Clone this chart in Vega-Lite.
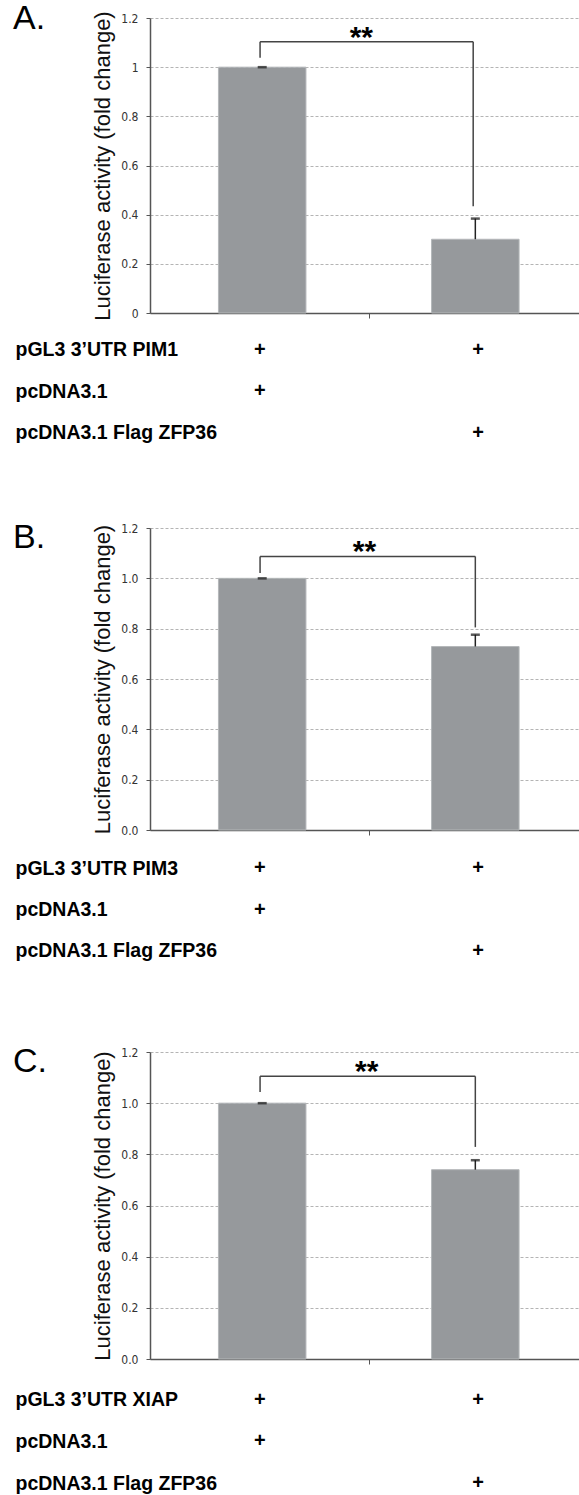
{
  "$schema": "https://vega.github.io/schema/vega-lite/v6.json",
  "autosize": {"type": "pad"},
  "padding": {"left": 13, "top": 2, "right": 0, "bottom": 0},
  "background": "white",
  "config": {"view": {"stroke": null}, "font": "Liberation Sans"},
  "datasets": {
    "bars": [
      {"panel": "A", "cond": 1, "value": 1.0, "upper": 1.0},
      {"panel": "A", "cond": 2, "value": 0.30, "upper": 0.384},
      {"panel": "B", "cond": 1, "value": 1.0, "upper": 1.0},
      {"panel": "B", "cond": 2, "value": 0.729, "upper": 0.776},
      {"panel": "C", "cond": 1, "value": 1.0, "upper": 1.0},
      {"panel": "C", "cond": 2, "value": 0.740, "upper": 0.777}
    ],
    "brackets": [
      {"panel": "A", "left": 0.99, "right": 1.99, "top": 1.103, "leftEnd": 1.038, "rightEnd": 0.434, "labelX": 1.465, "label": "**"},
      {"panel": "B", "left": 0.99, "right": 2.0, "top": 1.087, "leftEnd": 1.021, "rightEnd": 0.805, "labelX": 1.48, "label": "**"},
      {"panel": "C", "left": 0.99, "right": 2.0, "top": 1.105, "leftEnd": 1.044, "rightEnd": 0.829, "labelX": 1.49, "label": "**"}
    ],
    "table": [
      {"panel": "A", "row": "pGL3 3’UTR PIM1", "cond": 1, "sign": "+"},
      {"panel": "A", "row": "pGL3 3’UTR PIM1", "cond": 2, "sign": "+"},
      {"panel": "A", "row": "pcDNA3.1", "cond": 1, "sign": "+"},
      {"panel": "A", "row": "pcDNA3.1 Flag ZFP36", "cond": 2, "sign": "+"},
      {"panel": "B", "row": "pGL3 3’UTR PIM3", "cond": 1, "sign": "+"},
      {"panel": "B", "row": "pGL3 3’UTR PIM3", "cond": 2, "sign": "+"},
      {"panel": "B", "row": "pcDNA3.1", "cond": 1, "sign": "+"},
      {"panel": "B", "row": "pcDNA3.1 Flag ZFP36", "cond": 2, "sign": "+"},
      {"panel": "C", "row": "pGL3 3’UTR XIAP", "cond": 1, "sign": "+"},
      {"panel": "C", "row": "pGL3 3’UTR XIAP", "cond": 2, "sign": "+"},
      {"panel": "C", "row": "pcDNA3.1", "cond": 1, "sign": "+"},
      {"panel": "C", "row": "pcDNA3.1 Flag ZFP36", "cond": 2, "sign": "+"}
    ]
  },
  "bounds": "flush",
  "spacing": 30,
  "resolve": {"scale": {"x": "independent", "y": "independent"}},
  "vconcat": [
    {
      "width": 429, "height": 295,
      "title": {"text": "A.", "anchor": "start", "frame": "group", "dx": -137, "offset": -25.5, "fontSize": 34, "fontWeight": "normal", "font": "Liberation Sans", "color": "#000", "baseline": "top"},
      "layer": [
        {"data": {"name": "bars"}, "transform": [{"filter": "datum.panel==='A'"}],
         "mark": {"type": "bar", "orient": "vertical", "size": 87.5, "color": "#96999c", "stroke": "#b4b7b9", "strokeWidth": 1},
         "encoding": {
           "x": {"field": "cond", "type": "quantitative", "scale": {"domain": [0.497, 2.463], "nice": false, "zero": false},
                 "axis": {"values": [1.5], "labels": false, "title": null, "tickSize": 5, "tickColor": "#555", "domainColor": "#555", "domainWidth": 1.5, "grid": false}},
           "y": {"field": "value", "type": "quantitative", "scale": {"domain": [0, 1.2], "nice": false},
                 "axis": {"values": [0, 0.2, 0.4, 0.6, 0.8, 1, 1.2], "format": ".1~f", "title": "Luciferase activity (fold change)", "titleFont": "Liberation Sans", "titleFontSize": 22, "titleFontWeight": "normal", "titleColor": "#111", "titlePadding": 6, "grid": true, "gridDash": [3, 2], "gridColor": "#b4b4b4", "gridWidth": 1, "tickSize": 4, "tickColor": "#555", "domainColor": "#555", "domainWidth": 1.5, "labelFont": "Liberation Sans Narrow, DejaVu Sans Condensed, sans-serif", "labelFontSize": 12, "labelColor": "#333", "labelPadding": 8}}
         }},
        {"data": {"name": "bars"}, "transform": [{"filter": "datum.panel==='A'"}],
         "mark": {"type": "rule", "color": "#222", "strokeWidth": 1.5},
         "encoding": {"x": {"field": "cond", "type": "quantitative"}, "y": {"field": "value", "type": "quantitative"}, "y2": {"field": "upper"}}},
        {"data": {"name": "bars"}, "transform": [{"filter": "datum.panel==='A'"}],
         "mark": {"type": "tick", "orient": "horizontal", "size": 9, "thickness": 2.5, "color": "#111"},
         "encoding": {"x": {"field": "cond", "type": "quantitative"}, "y": {"field": "upper", "type": "quantitative"}}},
        {"data": {"name": "brackets"}, "transform": [{"filter": "datum.panel==='A'"}],
         "mark": {"type": "rule", "color": "#444", "strokeWidth": 1.5},
         "encoding": {"x": {"field": "left", "type": "quantitative"}, "x2": {"field": "right"}, "y": {"field": "top", "type": "quantitative"}}},
        {"data": {"name": "brackets"}, "transform": [{"filter": "datum.panel==='A'"}],
         "mark": {"type": "rule", "color": "#444", "strokeWidth": 1.5},
         "encoding": {"x": {"field": "left", "type": "quantitative"}, "y": {"field": "leftEnd", "type": "quantitative"}, "y2": {"field": "top"}}},
        {"data": {"name": "brackets"}, "transform": [{"filter": "datum.panel==='A'"}],
         "mark": {"type": "rule", "color": "#444", "strokeWidth": 1.5},
         "encoding": {"x": {"field": "right", "type": "quantitative"}, "y": {"field": "rightEnd", "type": "quantitative"}, "y2": {"field": "top"}}},
        {"data": {"name": "brackets"}, "transform": [{"filter": "datum.panel==='A'"}],
         "mark": {"type": "text", "font": "Liberation Sans", "fontSize": 30, "fontWeight": "bold", "baseline": "alphabetic", "dy": 5, "color": "#000"},
         "encoding": {"x": {"field": "labelX", "type": "quantitative"}, "y": {"field": "top", "type": "quantitative"}, "text": {"field": "label"}}}
      ]
    },
    {
      "width": 429, "height": 155,
      "data": {"name": "table"}, "transform": [{"filter": "datum.panel==='A'"}],
      "mark": {"type": "text", "font": "Liberation Sans", "fontSize": 20, "fontWeight": "bold", "color": "#000"},
      "encoding": {
        "x": {"field": "cond", "type": "quantitative", "scale": {"domain": [0.497, 2.463], "nice": false, "zero": false}, "axis": null},
        "y": {"field": "row", "type": "nominal", "sort": null, "scale": {"type": "point", "padding": 0.874, "align": 0.0968},
              "axis": {"title": null, "domain": false, "ticks": false, "tickSize": 0, "grid": false, "labelAlign": "left", "labelPadding": 135, "labelFont": "Liberation Sans", "labelFontSize": 19.5, "labelFontWeight": "bold", "labelColor": "#000", "labelLimit": 0}},
        "text": {"field": "sign"}
      }
    },
    {
      "width": 429, "height": 302,
      "title": {"text": "B.", "anchor": "start", "frame": "group", "dx": -137, "offset": -32.5, "fontSize": 34, "fontWeight": "normal", "font": "Liberation Sans", "color": "#000", "baseline": "top"},
      "layer": [
        {"data": {"name": "bars"}, "transform": [{"filter": "datum.panel==='B'"}],
         "mark": {"type": "bar", "orient": "vertical", "size": 87.5, "color": "#96999c", "stroke": "#b4b7b9", "strokeWidth": 1},
         "encoding": {
           "x": {"field": "cond", "type": "quantitative", "scale": {"domain": [0.497, 2.463], "nice": false, "zero": false},
                 "axis": {"values": [1.5], "labels": false, "title": null, "tickSize": 5, "tickColor": "#555", "domainColor": "#555", "domainWidth": 1.5, "grid": false}},
           "y": {"field": "value", "type": "quantitative", "scale": {"domain": [0, 1.2], "nice": false},
                 "axis": {"values": [0, 0.2, 0.4, 0.6, 0.8, 1, 1.2], "format": ".1f", "title": "Luciferase activity (fold change)", "titleFont": "Liberation Sans", "titleFontSize": 22, "titleFontWeight": "normal", "titleColor": "#111", "titlePadding": 6, "grid": true, "gridDash": [3, 2], "gridColor": "#b4b4b4", "gridWidth": 1, "tickSize": 4, "tickColor": "#555", "domainColor": "#555", "domainWidth": 1.5, "labelFont": "Liberation Sans Narrow, DejaVu Sans Condensed, sans-serif", "labelFontSize": 12, "labelColor": "#333", "labelPadding": 8}}
         }},
        {"data": {"name": "bars"}, "transform": [{"filter": "datum.panel==='B'"}],
         "mark": {"type": "rule", "color": "#222", "strokeWidth": 1.5},
         "encoding": {"x": {"field": "cond", "type": "quantitative"}, "y": {"field": "value", "type": "quantitative"}, "y2": {"field": "upper"}}},
        {"data": {"name": "bars"}, "transform": [{"filter": "datum.panel==='B'"}],
         "mark": {"type": "tick", "orient": "horizontal", "size": 9, "thickness": 2.5, "color": "#111"},
         "encoding": {"x": {"field": "cond", "type": "quantitative"}, "y": {"field": "upper", "type": "quantitative"}}},
        {"data": {"name": "brackets"}, "transform": [{"filter": "datum.panel==='B'"}],
         "mark": {"type": "rule", "color": "#444", "strokeWidth": 1.5},
         "encoding": {"x": {"field": "left", "type": "quantitative"}, "x2": {"field": "right"}, "y": {"field": "top", "type": "quantitative"}}},
        {"data": {"name": "brackets"}, "transform": [{"filter": "datum.panel==='B'"}],
         "mark": {"type": "rule", "color": "#444", "strokeWidth": 1.5},
         "encoding": {"x": {"field": "left", "type": "quantitative"}, "y": {"field": "leftEnd", "type": "quantitative"}, "y2": {"field": "top"}}},
        {"data": {"name": "brackets"}, "transform": [{"filter": "datum.panel==='B'"}],
         "mark": {"type": "rule", "color": "#444", "strokeWidth": 1.5},
         "encoding": {"x": {"field": "right", "type": "quantitative"}, "y": {"field": "rightEnd", "type": "quantitative"}, "y2": {"field": "top"}}},
        {"data": {"name": "brackets"}, "transform": [{"filter": "datum.panel==='B'"}],
         "mark": {"type": "text", "font": "Liberation Sans", "fontSize": 30, "fontWeight": "bold", "baseline": "alphabetic", "dy": 5, "color": "#000"},
         "encoding": {"x": {"field": "labelX", "type": "quantitative"}, "y": {"field": "top", "type": "quantitative"}, "text": {"field": "label"}}}
      ]
    },
    {
      "width": 429, "height": 161.7,
      "data": {"name": "table"}, "transform": [{"filter": "datum.panel==='B'"}],
      "mark": {"type": "text", "font": "Liberation Sans", "fontSize": 20, "fontWeight": "bold", "color": "#000"},
      "encoding": {
        "x": {"field": "cond", "type": "quantitative", "scale": {"domain": [0.497, 2.463], "nice": false, "zero": false}, "axis": null},
        "y": {"field": "row", "type": "nominal", "sort": null, "scale": {"type": "point", "padding": 0.962, "align": 0.1047},
              "axis": {"title": null, "domain": false, "ticks": false, "tickSize": 0, "grid": false, "labelAlign": "left", "labelPadding": 135, "labelFont": "Liberation Sans", "labelFontSize": 19.5, "labelFontWeight": "bold", "labelColor": "#000", "labelLimit": 0}},
        "text": {"field": "sign"}
      }
    },
    {
      "width": 429, "height": 307,
      "title": {"text": "C.", "anchor": "start", "frame": "group", "dx": -137, "offset": -32.5, "fontSize": 34, "fontWeight": "normal", "font": "Liberation Sans", "color": "#000", "baseline": "top"},
      "layer": [
        {"data": {"name": "bars"}, "transform": [{"filter": "datum.panel==='C'"}],
         "mark": {"type": "bar", "orient": "vertical", "size": 87.5, "color": "#96999c", "stroke": "#b4b7b9", "strokeWidth": 1},
         "encoding": {
           "x": {"field": "cond", "type": "quantitative", "scale": {"domain": [0.497, 2.463], "nice": false, "zero": false},
                 "axis": {"values": [1.5], "labels": false, "title": null, "tickSize": 5, "tickColor": "#555", "domainColor": "#555", "domainWidth": 1.5, "grid": false}},
           "y": {"field": "value", "type": "quantitative", "scale": {"domain": [0, 1.2], "nice": false},
                 "axis": {"values": [0, 0.2, 0.4, 0.6, 0.8, 1, 1.2], "format": ".1f", "title": "Luciferase activity (fold change)", "titleFont": "Liberation Sans", "titleFontSize": 22, "titleFontWeight": "normal", "titleColor": "#111", "titlePadding": 6, "grid": true, "gridDash": [3, 2], "gridColor": "#b4b4b4", "gridWidth": 1, "tickSize": 4, "tickColor": "#555", "domainColor": "#555", "domainWidth": 1.5, "labelFont": "Liberation Sans Narrow, DejaVu Sans Condensed, sans-serif", "labelFontSize": 12, "labelColor": "#333", "labelPadding": 8}}
         }},
        {"data": {"name": "bars"}, "transform": [{"filter": "datum.panel==='C'"}],
         "mark": {"type": "rule", "color": "#222", "strokeWidth": 1.5},
         "encoding": {"x": {"field": "cond", "type": "quantitative"}, "y": {"field": "value", "type": "quantitative"}, "y2": {"field": "upper"}}},
        {"data": {"name": "bars"}, "transform": [{"filter": "datum.panel==='C'"}],
         "mark": {"type": "tick", "orient": "horizontal", "size": 9, "thickness": 2.5, "color": "#111"},
         "encoding": {"x": {"field": "cond", "type": "quantitative"}, "y": {"field": "upper", "type": "quantitative"}}},
        {"data": {"name": "brackets"}, "transform": [{"filter": "datum.panel==='C'"}],
         "mark": {"type": "rule", "color": "#444", "strokeWidth": 1.5},
         "encoding": {"x": {"field": "left", "type": "quantitative"}, "x2": {"field": "right"}, "y": {"field": "top", "type": "quantitative"}}},
        {"data": {"name": "brackets"}, "transform": [{"filter": "datum.panel==='C'"}],
         "mark": {"type": "rule", "color": "#444", "strokeWidth": 1.5},
         "encoding": {"x": {"field": "left", "type": "quantitative"}, "y": {"field": "leftEnd", "type": "quantitative"}, "y2": {"field": "top"}}},
        {"data": {"name": "brackets"}, "transform": [{"filter": "datum.panel==='C'"}],
         "mark": {"type": "rule", "color": "#444", "strokeWidth": 1.5},
         "encoding": {"x": {"field": "right", "type": "quantitative"}, "y": {"field": "rightEnd", "type": "quantitative"}, "y2": {"field": "top"}}},
        {"data": {"name": "brackets"}, "transform": [{"filter": "datum.panel==='C'"}],
         "mark": {"type": "text", "font": "Liberation Sans", "fontSize": 30, "fontWeight": "bold", "baseline": "alphabetic", "dy": 5, "color": "#000"},
         "encoding": {"x": {"field": "labelX", "type": "quantitative"}, "y": {"field": "top", "type": "quantitative"}, "text": {"field": "label"}}}
      ]
    },
    {
      "width": 429, "height": 100,
      "data": {"name": "table"}, "transform": [{"filter": "datum.panel==='C'"}],
      "mark": {"type": "text", "font": "Liberation Sans", "fontSize": 20, "fontWeight": "bold", "color": "#000"},
      "encoding": {
        "x": {"field": "cond", "type": "quantitative", "scale": {"domain": [0.497, 2.463], "nice": false, "zero": false}, "axis": null},
        "y": {"field": "row", "type": "nominal", "sort": null, "scale": {"type": "point", "padding": 0.199, "align": 0.639},
              "axis": {"title": null, "domain": false, "ticks": false, "tickSize": 0, "grid": false, "labelAlign": "left", "labelPadding": 135, "labelFont": "Liberation Sans", "labelFontSize": 19.5, "labelFontWeight": "bold", "labelColor": "#000", "labelLimit": 0}},
        "text": {"field": "sign"}
      }
    }
  ]
}
